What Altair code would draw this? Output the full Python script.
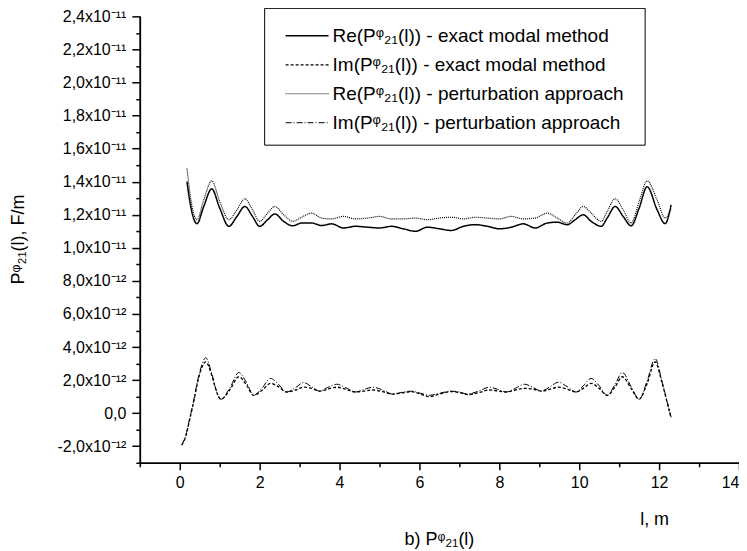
import altair as alt
import pandas as pd

# ---- data (values in units of 1e-12 F/m) ----
re_x = [0.18, 0.3, 0.43, 0.6, 0.8, 1.0, 1.23, 1.43, 1.63, 1.82, 2.0, 2.2, 2.38, 2.6, 2.83,
        3.05, 3.3, 3.55, 3.8, 4.1, 4.4, 4.7, 5.0, 5.3, 5.6, 5.9, 6.2, 6.5, 6.8, 7.1, 7.4,
        7.7, 8.0, 8.3, 8.6, 8.9, 9.2, 9.45, 9.7, 9.9, 10.1, 10.3, 10.55, 10.7, 10.9, 11.1,
        11.3, 11.5, 11.7, 11.95, 12.15, 12.3]
re_exact = [14.0, 12.2, 11.46, 12.5, 13.57, 12.4, 11.3, 11.9, 12.5, 11.9, 11.3, 11.7, 12.05, 11.6, 11.33,
            11.5, 11.5, 11.35, 11.45, 11.2, 11.3, 11.25, 11.2, 11.3, 11.15, 11.0, 11.25, 11.15, 11.05, 11.3, 11.4,
            11.3, 11.15, 11.25, 11.45, 11.2, 11.5, 11.55, 11.4, 11.7, 12.0, 11.6, 11.3, 11.8, 12.5, 11.9,
            11.33, 12.4, 13.7, 12.3, 11.46, 12.6]
re_pert = [14.8, 12.6, 11.7, 12.9, 14.05, 12.8, 11.7, 12.3, 12.97, 12.3, 11.6, 12.1, 12.5, 12.0, 11.6,
           11.85, 12.1, 11.8, 11.75, 11.9, 11.75, 11.8, 11.9, 11.75, 11.75, 11.8, 11.7, 11.8, 11.85, 11.75, 11.85,
           11.8, 11.75, 11.9, 11.75, 11.8, 12.1, 11.8, 11.5, 12.0, 12.5, 12.1, 11.6, 12.2, 12.97, 12.3,
           11.5, 12.8, 14.05, 12.9, 11.8, 12.4]

im_x = [0.05, 0.15, 0.25, 0.35, 0.45, 0.55, 0.65, 0.8, 0.92, 1.03, 1.25, 1.48, 1.67, 1.85, 2.07,
        2.27, 2.47, 2.67, 2.9, 3.1, 3.3, 3.5, 3.7, 3.93, 4.15, 4.4, 4.6, 4.83, 5.08, 5.33,
        5.55, 5.8, 6.03, 6.25, 6.5, 6.8, 7.0, 7.2, 7.5, 7.75, 7.95, 8.17, 8.4, 8.63, 8.85,
        9.05, 9.27, 9.48, 9.7, 9.92, 10.1, 10.3, 10.5, 10.7, 10.9, 11.08, 11.3, 11.5, 11.7,
        11.9, 12.07, 12.2, 12.3]
im_exact = [-1.93, -1.4, -0.36, 0.7, 1.9, 2.75, 3.1, 2.3, 1.3, 0.84, 1.4, 2.2, 1.7, 1.08, 1.4,
            1.8, 1.6, 1.28, 1.4, 1.57, 1.5, 1.33, 1.45, 1.57, 1.45, 1.28, 1.33, 1.4, 1.3, 1.15,
            1.22, 1.3, 1.15, 1.0, 1.15, 1.3, 1.25, 1.12, 1.25, 1.4, 1.35, 1.28, 1.4, 1.5, 1.45,
            1.33, 1.45, 1.57, 1.45, 1.28, 1.5, 1.8, 1.5, 1.08, 1.6, 2.2, 1.5, 0.84, 1.8,
            3.1, 1.87, 0.66, -0.3]
im_pert = [-1.93, -1.35, -0.3, 0.8, 2.0, 2.9, 3.35, 2.4, 1.35, 0.84, 1.5, 2.46, 1.85, 1.08, 1.55,
           2.1, 1.75, 1.28, 1.55, 1.85, 1.6, 1.33, 1.55, 1.75, 1.55, 1.28, 1.42, 1.57, 1.4, 1.15,
           1.25, 1.33, 1.2, 1.08, 1.2, 1.33, 1.28, 1.15, 1.35, 1.57, 1.45, 1.28, 1.5, 1.75, 1.55,
           1.33, 1.6, 1.87, 1.6, 1.28, 1.65, 2.1, 1.65, 1.08, 1.75, 2.46, 1.6, 0.84, 1.95,
           3.3, 1.95, 0.7, -0.25]

series_names = [
    "Re(Pᵠ₂₁(l)) - exact modal method",
    "Im(Pᵠ₂₁(l)) - exact modal method",
    "Re(Pᵠ₂₁(l)) - perturbation approach",
    "Im(Pᵠ₂₁(l)) - perturbation approach",
]
series_dash = [[1, 0], [3, 2], [1, 1], [6, 2, 1, 2]]
series_width = [1.5, 1.0, 1.0, 1.0]

x_major = [0, 2, 4, 6, 8, 10, 12, 14]
x_minor = [-1, 1, 3, 5, 7, 9, 11, 13]
y_major = [-2e-12, 0.0, 2e-12, 4e-12, 6e-12, 8e-12, 1e-11, 1.2e-11, 1.4e-11,
           1.6e-11, 1.8e-11, 2e-11, 2.2e-11, 2.4e-11]
y_labels = ["-2,0x10⁻¹²", "0,0", "2,0x10⁻¹²", "4,0x10⁻¹²", "6,0x10⁻¹²", "8,0x10⁻¹²",
            "1,0x10⁻¹¹", "1,2x10⁻¹¹", "1,4x10⁻¹¹", "1,6x10⁻¹¹", "1,8x10⁻¹¹", "2,0x10⁻¹¹",
            "2,2x10⁻¹¹", "2,4x10⁻¹¹"]
y_minor = [-3e-12, -1e-12, 1e-12, 3e-12, 5e-12, 7e-12, 9e-12, 1.1e-11, 1.3e-11, 1.5e-11,
           1.7e-11, 1.9e-11, 2.1e-11, 2.3e-11]

rows = []
for xs, ys, name in [(re_x, re_exact, series_names[0]), (im_x, im_exact, series_names[1]),
                     (re_x, re_pert, series_names[2]), (im_x, im_pert, series_names[3])]:
    for xv, yv in zip(xs, ys):
        rows.append({"l": xv, "P": yv * 1e-12, "series": name})
df = pd.DataFrame(rows)

FONT = "Liberation Sans"
xs = alt.Scale(domain=[-1, 14], nice=False, zero=False)
ys = alt.Scale(domain=[-3e-12, 2.4e-11], nice=False, zero=False)

label_list = "[" + ",".join("'" + s + "'" for s in y_labels) + "]"
label_expr = label_list + "[round(datum.value / 2e-12) + 1]"

axis_common = dict(domainColor="black", domainWidth=1.5, tickColor="black", tickWidth=1.5,
                   grid=False, labelFont=FONT, labelFontSize=16, labelColor="black",
                   titleFont=FONT, titleFontWeight="normal", titleColor="black")

# legend frame (layout decoration only)
frame = alt.Chart(pd.DataFrame({"k": [0]})).mark_rect(
    fill="white", stroke="black", strokeWidth=1
).encode(x=alt.value(125), x2=alt.value(506), y=alt.value(-8), y2=alt.value(129))

lines = alt.Chart(df).mark_line(color="black", interpolate="monotone").encode(
    x=alt.X("l:Q", scale=xs, axis=alt.Axis(values=x_major, tickSize=7, labelPadding=5,
                                           title="l, m", titleFontSize=18, titleX=515, titleY=57,
                                           titleAlign="center", titleBaseline="middle",
                                           **axis_common)),
    y=alt.Y("P:Q", scale=ys, axis=alt.Axis(values=y_major, labelExpr=label_expr, tickSize=8,
                                           labelPadding=6, title="Pᵠ₂₁(l), F/m",
                                           titleFontSize=18, titleX=-121, titleY=223,
                                           titleAlign="center", titleBaseline="middle",
                                           titleAngle=-90, **axis_common)),
    strokeDash=alt.StrokeDash("series:N", scale=alt.Scale(domain=series_names, range=series_dash),
                              legend=alt.Legend(title=None, orient="none", legendX=125, legendY=-8,
                                                symbolType="stroke", symbolSize=1849,
                                                symbolOffset=7,
                                                symbolStrokeColor="black", labelFont=FONT,
                                                labelFontSize=19, labelColor="black",
                                                labelLimit=500, padding=13, rowPadding=0,
                                                clipHeight=29, labelOffset=3)),
    strokeWidth=alt.StrokeWidth("series:N", scale=alt.Scale(domain=series_names, range=series_width),
                                legend=None),
)

minor_axes = alt.Chart(df).mark_line(opacity=0).encode(
    x=alt.X("l:Q", scale=xs, axis=alt.Axis(values=x_minor, labels=False, tickSize=4, title=None,
                                           orient="bottom", **axis_common)),
    y=alt.Y("P:Q", scale=ys, axis=alt.Axis(values=y_minor, labels=False, tickSize=4, title=None,
                                           orient="left", **axis_common)),
)

chart = alt.layer(frame, lines, minor_axes).resolve_axis(x="independent", y="independent").properties(
    width=600, height=447,
    autosize="none",
    padding={"left": 132, "top": 8, "right": 0, "bottom": 88},
    title=alt.TitleParams("b) Pᵠ₂₁(l)", orient="bottom", anchor="middle", font=FONT,
                          fontSize=18, fontWeight="normal", color="black", offset=2),
).configure_view(stroke=None)

chart.save("out.html", embed_options={"renderer": "svg", "actions": False})
